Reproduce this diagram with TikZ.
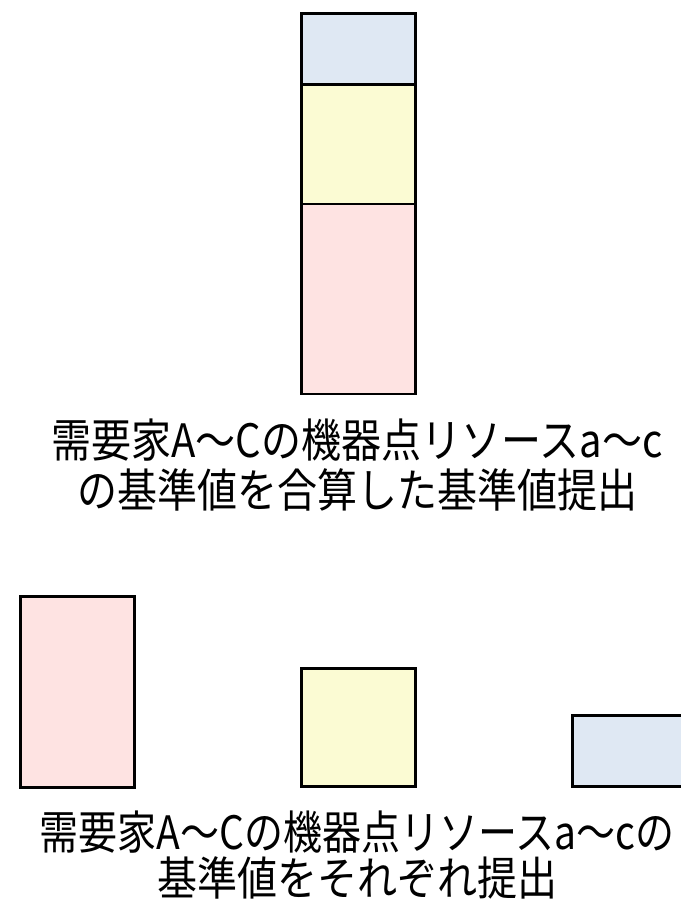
\documentclass[tikz,border=0pt]{standalone}
\usepackage{fontspec}
\usepackage{graphicx}
\newfontfamily\jpfont{Noto Sans CJK JP}
\definecolor{boxblue}{HTML}{DFE8F3}
\definecolor{boxyellow}{HTML}{FBFBD3}
\definecolor{boxpink}{HTML}{FEE3E2}
\newcommand{\tall}[2][1]{\scalebox{#1}[1.15]{#2}}
\tikzset{
  bar/.style={draw=black, line width=2.5pt, inner sep=0pt, minimum width=114pt},
  captext/.style={font=\jpfont\fontsize{40}{50}\selectfont, inner sep=0pt, text=black},
}
\begin{document}
\begin{tikzpicture}[x=1pt,y=-1pt]
\useasboundingbox (0,0) rectangle (680,902);
% top stacked bar
\node[bar, fill=boxpink, minimum height=190pt, anchor=north west] (sp) at (300,202.5) {};
\node[bar, fill=boxyellow, minimum height=119.5pt, anchor=north west] (sy) at (300,83) {};
\node[bar, fill=boxblue, minimum height=71pt, anchor=north west] (sb) at (300,12) {};
\node[captext] (t1a) at (357,440) {\tall{需要家A～Cの機器点リソースa～c}};
\node[captext] (t1b) at (357,490) {\tall{の基準値を合算した基準値提出}};
% bottom separate bars
\node[bar, fill=boxpink, minimum height=191pt, anchor=north west] (bp) at (19,595) {};
\node[bar, fill=boxyellow, minimum height=118pt, anchor=north west] (by) at (300,667) {};
\node[bar, fill=boxblue, minimum height=71pt, anchor=north west] (bb) at (571,714) {};
\node[captext] (t2a) at (357,832) {\tall[0.975]{需要家A～Cの機器点リソースa～cの}};
\node[captext] (t2b) at (357,878) {\tall{基準値をそれぞれ提出}};
\end{tikzpicture}
\end{document}
